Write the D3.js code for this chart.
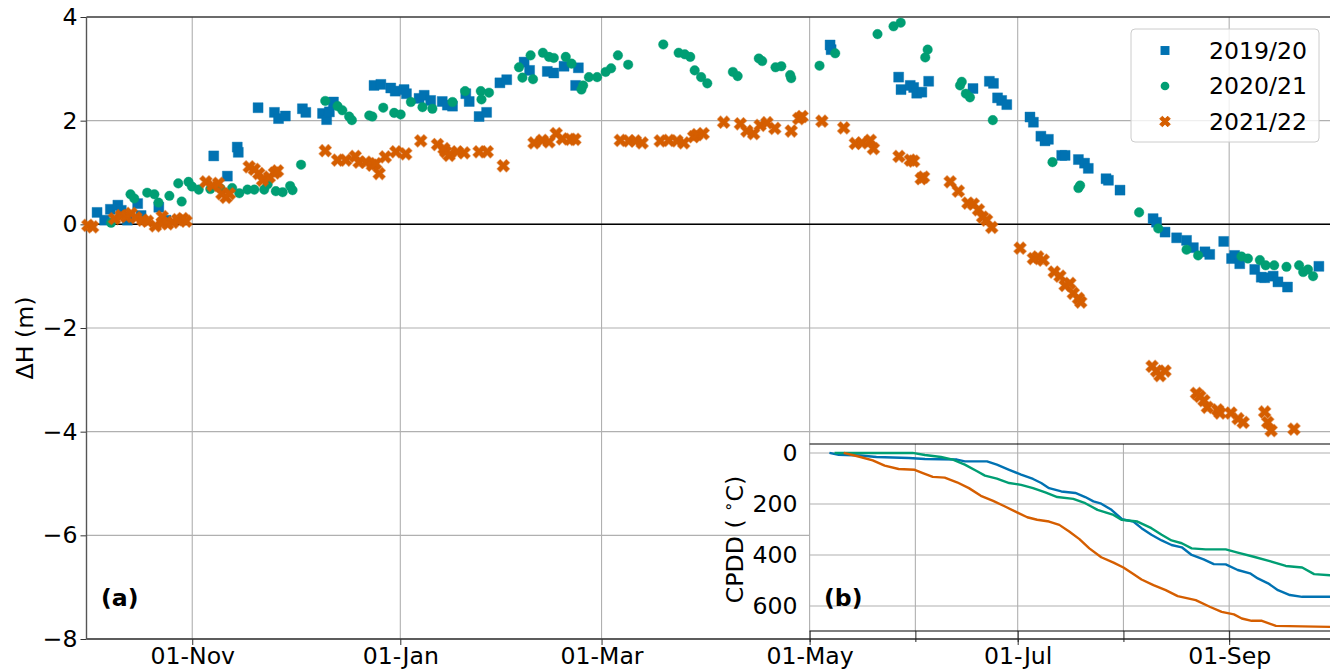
<!DOCTYPE html>
<html><head><meta charset="utf-8">
<script src="https://cdn.jsdelivr.net/npm/d3@7"></script>
<style>
body{margin:0;background:#fff}
svg{display:block}
text{font-family:"DejaVu Sans",sans-serif;fill:#000}
</style>
</head><body>
<svg id="c" width="1330" height="671"></svg>
<script>
// ---------- DATA (x = days since 1 October of the season) ----------
const seasons = ["2019/20", "2020/21", "2021/22"];
const colors = ["#0072B2", "#009E73", "#D55E00"];
const yTicksMain = [-8, -6, -4, -2, 0, 2, 4];
const yTicksInset = [0, 200, 400, 600];
const xTickDays = [31, 92, 151, 212, 273, 335];          // 01-Nov ... 01-Sep
const insetGridDays = [212, 243, 273, 304, 335];        // 01-May ... 01-Sep

const dh1920Day = [3.1,5.3,7,9.2,10.2,12,15,16,21.2,23.3,37.3,41.3,44.2,44.5,50.3,55.1,56.3,58.3,63.3,64.3,69.2,70.4,71.2,72.4,84.3,86.3,89.2,90.5,93.1,93.8,97.5,99,100.9,104.3,105.8,107.3,111.2,112.2,115.1,117.3,121.2,123.2,128.3,129.9,135.1,137,140,143.4,144.2,218,218.3,238.1,238.8,241.5,242.5,243.4,244.9,246.9,259.9,264.7,265.9,267.1,268.3,269.8,276.6,277.6,279.8,281,282,285.9,286.9,290.8,292.6,293.7,298.9,299.6,303,312.7,313.7,316.2,319.6,322.5,324.5,327.9,329.3,333.4,335.7,336.6,338.1,342.5,344.4,345.4,347.9,349.3,352.1,361.3];
const dh1920Val = [0.23,0.08,0.29,0.37,0.27,0.08,0.40,0.17,0.33,0.08,1.32,0.93,1.49,1.39,2.25,2.16,2.04,2.09,2.23,2.16,2.14,2.02,2.17,2.36,2.68,2.70,2.63,2.57,2.60,2.52,2.43,2.49,2.39,2.37,2.30,2.28,2.52,2.37,2.08,2.16,2.73,2.79,3.13,2.97,2.95,2.92,3.05,2.68,3.02,3.46,3.37,2.84,2.60,2.68,2.64,2.53,2.55,2.76,2.62,2.76,2.72,2.44,2.39,2.31,2.07,1.97,1.70,1.61,1.64,1.33,1.33,1.25,1.18,1.08,0.88,0.85,0.66,0.11,0.04,-0.15,-0.26,-0.31,-0.45,-0.53,-0.58,-0.33,-0.66,-0.60,-0.76,-0.87,-1.02,-1.03,-1.00,-1.11,-1.21,-0.81];

const dh2021Day = [7.2,12.9,14,17.8,19.9,21.1,24.3,26.9,27.9,29.9,30.9,32.9,36.3,39.3,42.7,44.8,47.2,49.2,52.1,53.1,55.5,57.5,59.7,60.4,62.9,70,73.6,75,77,77.8,82.9,83.8,87,90.2,92.1,95.1,98.5,101.4,107.3,111,115.6,115.8,118,126.8,127.8,130.2,130.9,133.8,135.6,137,140.5,142.2,145.1,145.6,147.3,149.7,152.2,153.8,155.8,158.8,169.1,173.6,175.4,177,178.3,180.2,182,189.5,190.9,197.1,198.1,202,203.7,206.3,206.6,214.9,219.5,231.9,236.6,238.7,245.9,246.6,256.1,256.6,257.8,259,265.7,283.2,290.8,291.3,308.6,314.2,322.5,325.9,338.6,340.5,344,345.7,348.2,351.8,355.5,356.7,358.1,359.6];
const dh2021Val = [0.03,0.58,0.50,0.61,0.58,0.42,0.55,0.79,0.44,0.82,0.73,0.67,0.68,0.69,0.70,0.60,0.67,0.67,0.67,0.77,0.64,0.62,0.74,0.66,1.15,2.38,2.28,2.20,2.08,2.01,2.10,2.08,2.25,2.15,2.12,2.36,2.26,2.23,2.36,2.57,2.57,2.41,2.54,3.03,2.83,3.26,2.80,3.31,3.23,3.21,3.23,3.10,2.60,2.68,2.84,2.84,2.94,3.01,3.26,3.08,3.47,3.31,3.28,3.23,2.97,2.84,2.72,2.94,2.86,3.20,3.15,3.03,3.05,2.88,2.82,3.06,3.30,3.67,3.82,3.89,3.22,3.37,2.68,2.75,2.52,2.45,2.01,1.20,0.70,0.75,0.23,-0.08,-0.49,-0.60,-0.62,-0.66,-0.69,-0.79,-0.79,-0.82,-0.79,-0.92,-0.87,-1.00];

const dh2122Day = [0.4,1.8,8.2,10.2,11.6,13.1,14.5,16.5,17.9,20.2,22.2,22.3,23.8,25.3,26.7,28.2,29.2,35,37,38.7,39.7,40.9,41.9,47.7,49.2,50.5,51.6,53.6,55.1,56,70,73.6,76,78.8,79.9,81.9,83.8,84.8,85.8,87.6,90.7,93.6,98,102.9,104.8,105.3,106.3,108.7,110.7,115.1,117.5,122.2,131.2,133.6,135.6,137.7,139.5,141.9,143.2,156.5,159,160.9,162.9,168.2,170.7,173.1,175.1,178,179,180.8,186.8,191.7,193.6,195.6,197.5,199.5,201.8,206.6,208.8,209.8,215.6,222,225.4,227.3,229.8,230.7,238.2,241.5,242.5,244.7,245.4,253.2,255.6,258.4,260,261.5,262.7,263.9,265.4,273.7,277.6,278.9,280.5,283.7,285.4,286.9,288.3,289.3,290.8,291.5,312.4,313.7,314.7,316.2,325.4,326.4,327.6,328.6,331.6,332.3,335.5,337.6,339.1,345.4,346.3,347.3,354];
const dh2122Val = [-0.02,-0.05,0.11,0.17,0.15,0.21,0.13,0.08,0.06,-0.03,0.15,0.03,0.01,0.04,0.09,0.11,0.06,0.82,0.75,0.79,0.59,0.52,0.59,1.11,1.06,0.98,0.85,0.91,0.99,1.03,1.42,1.24,1.24,1.31,1.20,1.20,1.14,1.17,0.98,1.30,1.40,1.36,1.61,1.54,1.46,1.40,1.33,1.40,1.38,1.40,1.40,1.13,1.57,1.62,1.59,1.75,1.65,1.64,1.64,1.62,1.61,1.61,1.57,1.61,1.62,1.61,1.57,1.69,1.73,1.75,1.97,1.94,1.80,1.75,1.91,1.96,1.85,1.80,2.04,2.08,1.99,1.86,1.56,1.57,1.62,1.46,1.31,1.24,1.22,0.88,0.91,0.82,0.64,0.41,0.39,0.28,0.14,0.08,-0.06,-0.46,-0.66,-0.63,-0.69,-0.92,-1.00,-1.18,-1.14,-1.33,-1.43,-1.50,-2.74,-2.83,-2.92,-2.83,-3.26,-3.32,-3.40,-3.53,-3.58,-3.64,-3.64,-3.75,-3.82,-3.62,-3.82,-3.98,-3.95];

// CPDD (inset)
const cpdd1920Day = [217.8,220.5,226.9,231.6,241.1,245.8,255.2,257.5,264.0,266.9,270.5,274.0,277.5,279.9,282.2,285.8,289.9,292.8,295.2,297.5,300.5,303.6,306.9,309.3,312.2,315.2,318.1,321.1,324.0,327.5,330.5,334.0,337.5,341.1,343.4,346.4,349.3,352.8,356.4,365];
const cpdd1920Val = [0,7,10,16,20,24,26,33,33,46,66,85,102,118,138,151,157,173,190,199,223,260,269,295,321,343,361,370,400,417,436,437,459,472,492,511,538,557,564,564];
const cpdd2021Day = [219.3,229.3,242.2,245.8,250.5,254.0,257.5,261.1,263.4,266.9,270.5,274.0,277.5,281.1,284.6,289.3,292.8,296.4,301.1,303.4,308.1,312.2,315.2,318.1,321.1,324.0,328.1,334.0,337.5,342.2,346.9,351.6,356.4,359.9,365];
const cpdd2021Val = [0,0,0,8,16,26,46,72,89,101,118,125,138,155,173,180,197,223,243,262,269,295,321,343,354,374,378,378,391,407,424,443,449,475,480];
const cpdd2122Day = [222.0,226.9,230.5,234.0,238.1,242.8,245.2,248.1,251.6,255.2,258.7,262.2,265.8,269.3,272.8,275.8,278.7,282.2,285.2,288.1,291.1,294.0,297.5,301.1,304.0,306.9,309.3,312.8,316.4,319.9,325.2,329.3,332.8,336.4,338.7,341.6,344.6,348.7,356.4,365];
const cpdd2122Val = [0,16,29,50,63,66,79,94,97,115,138,168,188,210,233,252,262,269,282,308,338,374,409,430,449,475,496,518,538,561,577,603,623,633,649,658,658,678,680,682];

// ---------- CHART ----------
const svg = d3.select("#c");
const t0 = Date.UTC(2021, 9, 1);
const toDate = d => new Date(t0 + d * 864e5);
const FS = 23.6;

const M = {left: 86.5, right: 1331.5, top: 17, bottom: 639};
const x = d3.scaleUtc().domain([toDate(0), toDate(365)]).range([M.left, M.right]);
const y = d3.scaleLinear().domain([-8, 4]).range([M.bottom, M.top]);
const fmt = d3.utcFormat("%d-%b");

const grid = "#b0b0b0";
const g = svg.append("g");

// grid
g.selectAll(".vg").data(xTickDays).join("line")
  .attr("x1", d => x(toDate(d))).attr("x2", d => x(toDate(d)))
  .attr("y1", M.top).attr("y2", M.bottom).attr("stroke", grid).attr("stroke-width", 1.1);
g.selectAll(".hg").data(yTicksMain).join("line")
  .attr("x1", M.left).attr("x2", M.right)
  .attr("y1", d => y(d)).attr("y2", d => y(d)).attr("stroke", grid).attr("stroke-width", 1.1);

// zero line
g.append("line").attr("x1", M.left).attr("x2", M.right).attr("y1", y(0)).attr("y2", y(0))
  .attr("stroke", "#000").attr("stroke-width", 1.5);

// axes via d3
const xAxis = d3.axisBottom(x).tickValues(xTickDays.map(toDate)).tickFormat(fmt).tickSize(6).tickPadding(4);
const gx = g.append("g").attr("transform", `translate(0,${M.bottom})`).call(xAxis);
gx.select(".domain").remove();
gx.selectAll("line").attr("stroke", "#333");
gx.selectAll("text").attr("font-size", FS).attr("font-family", "DejaVu Sans").attr("dy", "0.64em");

const yAxis = d3.axisLeft(y).tickValues(yTicksMain).tickFormat(d => d < 0 ? "\u2212" + Math.abs(d) : d).tickSize(6).tickPadding(3);
const gy = g.append("g").attr("transform", `translate(${M.left},0)`).call(yAxis);
gy.select(".domain").remove();
gy.selectAll("line").attr("stroke", "#333");
gy.selectAll("text").attr("font-size", FS).attr("font-family", "DejaVu Sans");

// spines
g.append("line").attr("x1", M.left).attr("x2", M.right).attr("y1", M.top).attr("y2", M.top).attr("stroke", "#000").attr("stroke-width", 1.2);
g.append("line").attr("x1", M.left).attr("x2", M.right).attr("y1", M.bottom).attr("y2", M.bottom).attr("stroke", "#333").attr("stroke-width", 1.4);
g.append("line").attr("x1", M.left).attr("x2", M.left).attr("y1", M.top).attr("y2", M.bottom).attr("stroke", "#555").attr("stroke-width", 1.4);

// y label
svg.append("text").attr("transform", `translate(33,${(M.top + M.bottom) / 2 + 10}) rotate(-90)`)
  .attr("text-anchor", "middle").attr("font-size", FS).text("\u0394H (m)");

// markers
const xShape = {
  draw(ctx, size) {
    const r = Math.sqrt(size / 5) / 2;
    const pts = [[-r,-3*r],[r,-3*r],[r,-r],[3*r,-r],[3*r,r],[r,r],[r,3*r],[-r,3*r],[-r,r],[-3*r,r],[-3*r,-r],[-r,-r]];
    const c = Math.SQRT1_2;
    pts.forEach((p, i) => {
      const px = (p[0] - p[1]) * c, py = (p[0] + p[1]) * c;
      i ? ctx.lineTo(px, py) : ctx.moveTo(px, py);
    });
    ctx.closePath();
  }
};
const symbols = [d3.symbol(d3.symbolSquare, 100), d3.symbol(d3.symbolCircle, 72), d3.symbol(xShape, 95)];
const seriesDays = [dh1920Day, dh2021Day, dh2122Day];
const seriesVals = [dh1920Val, dh2021Val, dh2122Val];

seriesDays.forEach((days, si) => {
  const pts = days.map((d, i) => ({d, v: seriesVals[si][i]}));
  g.append("g").selectAll("path").data(pts).join("path")
    .attr("transform", p => `translate(${x(toDate(p.d))},${y(p.v)})`)
    .attr("d", symbols[si]())
    .attr("fill", colors[si]).attr("stroke", colors[si]).attr("stroke-opacity", 0.5)
    .attr("stroke-width", si === 2 ? 1.3 : 0.8).attr("stroke-linejoin", "round");
});

// panel label (a)
svg.append("text").attr("x", 101).attr("y", 606).attr("font-size", FS).attr("font-weight", "bold").text("(a)");

// legend
const lg = svg.append("g");
lg.append("rect").attr("x", 1131).attr("y", 29).attr("width", 188).attr("height", 113).attr("rx", 4)
  .attr("fill", "#fff").attr("fill-opacity", 0.8).attr("stroke", "#cccccc").attr("stroke-width", 1);
seasons.forEach((s, i) => {
  const yy = 50.5 + i * 35.5;
  lg.append("path").attr("transform", `translate(1165,${yy})`).attr("d", d3.symbol(i === 2 ? xShape : (i === 0 ? d3.symbolSquare : d3.symbolCircle), i === 0 ? 80 : (i === 1 ? 60 : 70))())
    .attr("fill", colors[i]).attr("stroke", colors[i]).attr("stroke-width", i === 2 ? 1 : 0).attr("stroke-linejoin", "round");
  lg.append("text").attr("x", 1209).attr("y", yy).attr("dy", "0.36em").attr("font-size", FS).text(s);
});

// ---------- INSET ----------
const I = {left: x(toDate(212)), right: M.right, top: 444, bottom: 631};
const yi = d3.scaleLinear().domain([-35, 698]).range([I.top, I.bottom]);
const ig = svg.append("g");
ig.append("rect").attr("x", I.left).attr("y", I.top).attr("width", I.right - I.left).attr("height", I.bottom - I.top).attr("fill", "#fff");
ig.selectAll(".ivg").data(insetGridDays).join("line")
  .attr("x1", d => x(toDate(d))).attr("x2", d => x(toDate(d)))
  .attr("y1", I.top).attr("y2", I.bottom).attr("stroke", grid).attr("stroke-width", 1.1);
ig.selectAll(".ihg").data(yTicksInset).join("line")
  .attr("x1", I.left).attr("x2", I.right).attr("y1", d => yi(d)).attr("y2", d => yi(d))
  .attr("stroke", grid).attr("stroke-width", 1.1);

const line = d3.line().x(p => x(toDate(p[0]))).y(p => yi(p[1]));
const cpDays = [cpdd1920Day, cpdd2021Day, cpdd2122Day];
const cpVals = [cpdd1920Val, cpdd2021Val, cpdd2122Val];
cpDays.forEach((days, si) => {
  ig.append("path").datum(days.map((d, i) => [d, cpVals[si][i]]))
    .attr("d", line).attr("fill", "none").attr("stroke", colors[si]).attr("stroke-width", 2.4)
    .attr("stroke-linejoin", "round");
});

// inset spines
ig.append("line").attr("x1", I.left).attr("x2", I.right).attr("y1", I.top).attr("y2", I.top).attr("stroke", "#000").attr("stroke-width", 1.2);
ig.append("line").attr("x1", I.left).attr("x2", I.right).attr("y1", I.bottom).attr("y2", I.bottom).attr("stroke", "#000").attr("stroke-width", 1.2);

// inset axes
const xiAxis = d3.axisBottom(x).tickValues(insetGridDays.map(toDate)).tickFormat("").tickSize(11);
const gxi = ig.append("g").attr("transform", `translate(0,${I.bottom})`).call(xiAxis);
gxi.select(".domain").remove();
gxi.selectAll("line").attr("stroke", "#222");
const yiAxis = d3.axisLeft(yi).tickValues(yTicksInset).tickSize(0).tickPadding(12);
const gyi = ig.append("g").attr("transform", `translate(${I.left},0)`).call(yiAxis);
gyi.select(".domain").remove();
gyi.selectAll("text").attr("font-size", FS).attr("font-family", "DejaVu Sans");

// inset label
const cl = svg.append("text").attr("transform", `translate(743,${(I.top + I.bottom) / 2 + 2}) rotate(-90)`)
  .attr("text-anchor", "middle").attr("font-size", FS);
cl.append("tspan").text("CPDD ( ");
cl.append("tspan").attr("font-size", FS * 0.7).attr("dy", "-0.55em").text("\u2218");
cl.append("tspan").attr("dy", "0.38em").text("C)");

svg.append("text").attr("x", 824).attr("y", 606).attr("font-size", FS).attr("font-weight", "bold").text("(b)");
</script>
</body></html>
